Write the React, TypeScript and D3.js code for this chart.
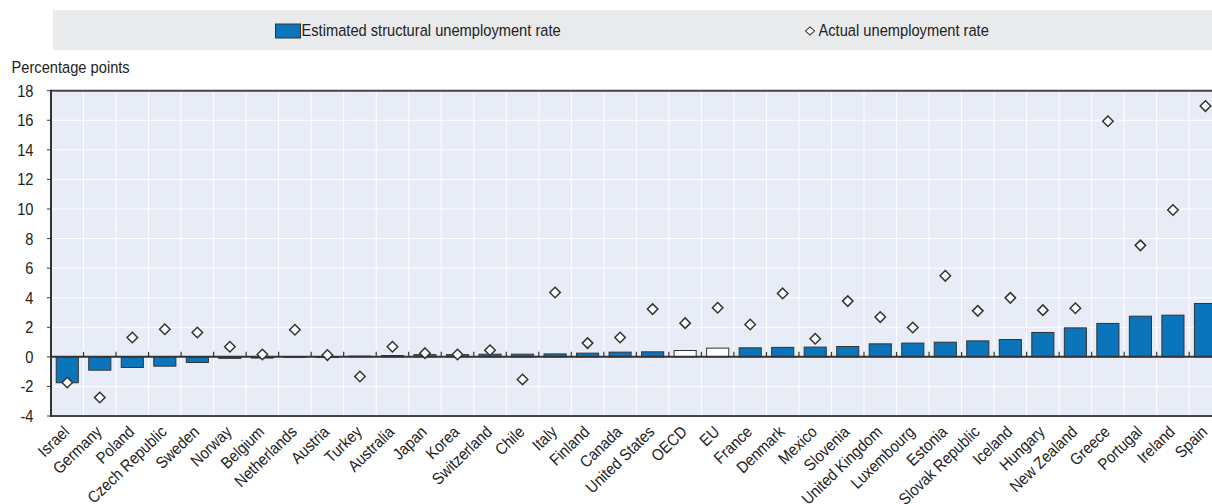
import React from "react";
import * as d3 from "d3";

const countries = [
  "Israel", "Germany", "Poland", "Czech Republic", "Sweden", "Norway", "Belgium", "Netherlands",
  "Austria", "Turkey", "Australia", "Japan", "Korea", "Switzerland", "Chile", "Italy", "Finland",
  "Canada", "United States", "OECD", "EU", "France", "Denmark", "Mexico", "Slovenia",
  "United Kingdom", "Luxembourg", "Estonia", "Slovak Republic", "Iceland", "Hungary",
  "New Zealand", "Greece", "Portugal", "Ireland", "Spain",
];

const structural = [
  -1.75, -0.9, -0.72, -0.63, -0.38, -0.1, -0.08, 0.0, 0.0, 0.05, 0.09, 0.15, 0.15, 0.18, 0.18,
  0.2, 0.25, 0.32, 0.34, 0.43, 0.59, 0.61, 0.64, 0.66, 0.7, 0.88, 0.93, 0.99, 1.08, 1.17, 1.65,
  1.96, 2.26, 2.75, 2.82, 3.61,
];

const actual = [
  -1.73, -2.75, 1.31, 1.87, 1.65, 0.68, 0.16, 1.83, 0.12, -1.33, 0.68, 0.25, 0.16, 0.45, -1.53,
  4.35, 0.93, 1.31, 3.23, 2.28, 3.32, 2.19, 4.29, 1.22, 3.77, 2.69, 1.99, 5.48, 3.11, 3.99, 3.16,
  3.29, 15.93, 7.54, 9.93, 16.96,
];

const highlighted = ["OECD", "EU"];
const yTicks = [-4, -2, 0, 2, 4, 6, 8, 10, 12, 14, 16, 18];
const legendLabels = ["Estimated structural unemployment rate", "Actual unemployment rate"];
const yTitle = "Percentage points";

const W = 1212;
const H = 504;
const left = 51;
const top = 90.7;
const bottom = 416;
const step = 32.52;
const font = "'Liberation Sans', Arial, sans-serif";
const FS = 16.3;
const SX = 0.9;

function NText(props: {
  x: number;
  y: number;
  anchor?: "start" | "end" | "middle";
  rotate?: number;
  children: React.ReactNode;
}) {
  const { x, y, anchor = "start", rotate = 0, children } = props;
  return (
    <text
      transform={`translate(${x},${y}) rotate(${rotate}) scale(${SX},1)`}
      textAnchor={anchor}
      fontFamily={font}
      fontSize={FS}
      fill="#222"
    >
      {children}
    </text>
  );
}

export default function App() {
  const x = d3
    .scaleBand<string>()
    .domain(countries)
    .range([left, left + step * countries.length])
    .paddingInner(0.32)
    .paddingOuter(0.16);
  const y = d3.scaleLinear().domain([-4, 18]).range([bottom, top]);
  const y0 = y(0);
  const bw = x.bandwidth();
  const stepW = x.step();
  const bandStart = (c: string) => (x(c) as number) - (stepW - bw) / 2;
  const right = left + step * countries.length;
  const diamond = d3.symbol().type(d3.symbolDiamond2).size(70)();

  return (
    <svg width={W} height={H} style={{ position: "absolute", left: 0, top: 0, background: "#fff" }}>
      {/* legend */}
      <rect x={53} y={10} width={W - 53} height={40} fill="#e9eaec" />
      <rect x={275.5} y={24} width={25} height={14} fill="#0a75bb" stroke="#333" strokeWidth={1} />
      <NText x={301.5} y={36}>{legendLabels[0]}</NText>
      <path d={diamond} transform="translate(810,31) scale(0.85,0.78)" fill="#fff" stroke="#333" strokeWidth={1.3} />
      <NText x={818.5} y={36}>{legendLabels[1]}</NText>

      <NText x={11.5} y={73}>{yTitle}</NText>

      {/* plot background */}
      <rect x={left} y={top} width={right - left} height={bottom - top} fill="#e8ecf6" />
      {yTicks.map((t) => (
        <line key={"h" + t} x1={left} x2={right} y1={y(t)} y2={y(t)} stroke="#fff" strokeWidth={1} />
      ))}
      {countries.map((c, i) =>
        i === 0 ? null : (
          <line key={"v" + c} x1={bandStart(c)} x2={bandStart(c)} y1={top} y2={bottom} stroke="#fff" strokeWidth={1} />
        )
      )}

      {/* bars */}
      {countries.map((c, i) => {
        const v = structural[i];
        const yy = Math.min(y(v), y0);
        const h = Math.abs(y(v) - y0);
        return (
          <rect
            key={"b" + c}
            x={x(c)}
            y={yy}
            width={bw}
            height={Math.max(h, 0.6)}
            fill={highlighted.includes(c) ? "#ffffff" : "#0a75bb"}
            stroke="#333"
            strokeWidth={1}
          />
        );
      })}

      {/* zero line and ticks */}
      <line x1={left} x2={right} y1={y0} y2={y0} stroke="#333" strokeWidth={2} />
      {countries.map((c, i) =>
        i === 0 ? null : (
          <line key={"t" + c} x1={bandStart(c)} x2={bandStart(c)} y1={y0 - 5} y2={y0} stroke="#333" strokeWidth={1.2} />
        )
      )}

      {/* diamonds */}
      {countries.map((c, i) => (
        <path
          key={"d" + c}
          d={diamond}
          transform={`translate(${(x(c) as number) + bw / 2},${y(actual[i])})`}
          fill="#fff"
          stroke="#333"
          strokeWidth={1.5}
        />
      ))}

      {/* frame */}
      <line x1={left} x2={right} y1={top} y2={top} stroke="#444" strokeWidth={2} />
      <line x1={left} x2={right} y1={bottom} y2={bottom} stroke="#444" strokeWidth={2} />
      <line x1={left} x2={left} y1={top - 1} y2={bottom + 1} stroke="#333" strokeWidth={2} />

      {/* y axis */}
      {yTicks.map((t) => (
        <g key={"y" + t}>
          <line x1={left - 4} x2={left} y1={y(t)} y2={y(t)} stroke="#333" strokeWidth={1} />
          <NText x={33.5} y={y(t) + 6} anchor="end">{t}</NText>
        </g>
      ))}

      {/* x labels */}
      {countries.map((c) => {
        const cx = (x(c) as number) + bw / 2;
        return (
          <NText key={"x" + c} x={cx + 3} y={433} anchor="end" rotate={-44}>
            {c}
          </NText>
        );
      })}
    </svg>
  );
}
